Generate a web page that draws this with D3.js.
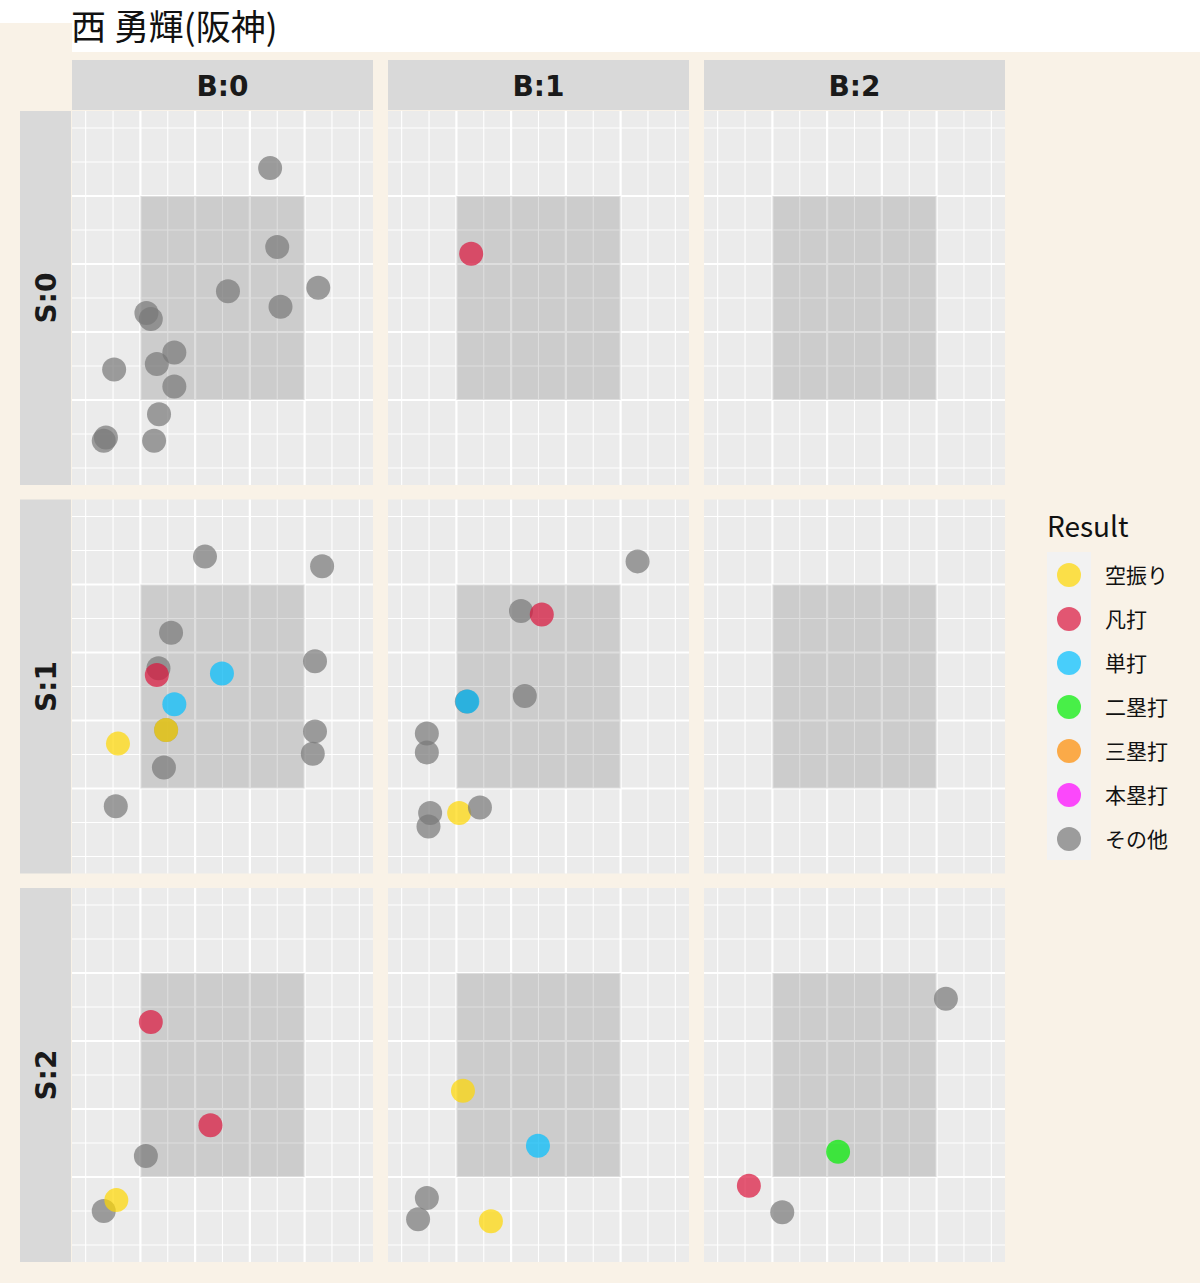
<!DOCTYPE html>
<html><head><meta charset="utf-8">
<script src="https://cdn.jsdelivr.net/npm/d3@7"></script>
<style>body{margin:0;background:#fff}svg{display:block}</style>
</head><body>
<svg id="c" width="1200" height="1283"></svg>
<script>
// ---- data ----
const title = "西 勇輝(阪神)";
const ballLabels = ["B:0", "B:1", "B:2"];
const strikeLabels = ["S:0", "S:1", "S:2"];
const resultCats = ["空振り", "凡打", "単打", "二塁打", "三塁打", "本塁打", "その他"];
const resultColors = ["#ffd700", "#dc143c", "#00bfff", "#00ee00", "#ff8c00", "#ff00ff", "#777777"];
const xBreaksMajor = [0, 1, 2, 3];
const xBreaksMinor = [-1, -0.5, 0.5, 1.5, 2.5, 3.5, 4];
const yBreaksMajor = [0, 1, 2, 3];
const yBreaksMinor = [-1, -0.5, 0.5, 1.5, 2.5, 3.5, 4];
const zone = [0, 3, 0, 3]; // x0,x1,y0,y1
const axisDomain = [-1.25, 4.25];

const ptBall   = [0,0,0,0,0,0,0,0,0,0,0,0,0,0,0, 1, 0,0,0,0,0,0,0,0,0,0,0,0,0,0,0, 1,1,1,1,1,1,1,1,1,1,1,1, 0,0,0,0,0, 1,1,1,1,1, 2,2,2,2];
const ptStrike = [0,0,0,0,0,0,0,0,0,0,0,0,0,0,0, 0, 1,1,1,1,1,1,1,1,1,1,1,1,1,1,1, 1,1,1,1,1,1,1,1,1,1,1,1, 2,2,2,2,2, 2,2,2,2,2, 2,2,2,2];
const ptX = [2.37,2.50,1.60,3.25,2.56,0.11,0.19,0.62,0.30,-0.48,0.62,0.34,-0.63,-0.67,0.25,
  0.27,
  1.18,3.32,0.56,0.33,0.30,1.49,3.19,0.62,0.47,0.47,-0.41,3.19,3.15,0.43,-0.45,
  3.31,1.18,1.56,1.25,0.19,0.20,-0.54,-0.54,-0.48,-0.51,0.05,0.43,
  0.19,1.28,0.10,-0.67,-0.44,
  0.12,1.49,-0.54,-0.70,0.63,
  3.17,1.20,-0.43,0.18];
const ptY = [3.41,2.25,1.60,1.65,1.37,1.28,1.19,0.70,0.53,0.45,0.20,-0.21,-0.55,-0.60,-0.60,
  2.15,
  3.41,3.27,2.29,1.77,1.67,1.69,1.87,1.24,0.86,0.86,0.66,0.84,0.51,0.31,-0.26,
  3.34,2.61,2.56,1.36,1.28,1.28,0.81,0.53,-0.36,-0.56,-0.36,-0.28,
  2.28,0.76,0.31,-0.50,-0.34,
  1.27,0.46,-0.31,-0.62,-0.65,
  2.62,0.37,-0.13,-0.52];
const ptResult = ["その他","その他","その他","その他","その他","その他","その他","その他","その他","その他","その他","その他","その他","その他","その他",
  "凡打",
  "その他","その他","その他","その他","凡打","単打","その他","単打","その他","空振り","空振り","その他","その他","その他","その他",
  "その他","その他","凡打","その他","その他","単打","その他","その他","その他","その他","空振り","その他",
  "凡打","凡打","その他","その他","空振り",
  "空振り","単打","その他","その他","空振り",
  "その他","二塁打","凡打","その他"];

// ---- layout ----
const svg = d3.select("#c");
const W = 1200, H = 1283;
const beige = "#f9f2e7";
const colLeft = [72, 388, 704], panelW = 301;
const rowTop = [111, 499.5, 888], panelH = 374;
const fontJP = "'Noto Sans CJK JP','Noto Sans',sans-serif";

svg.append("rect").attr("width", W).attr("height", H).attr("fill", "#fff");
svg.append("rect").attr("x", 0).attr("y", 52).attr("width", W).attr("height", H - 52).attr("fill", beige);
svg.append("rect").attr("x", 0).attr("y", 23).attr("width", 72).attr("height", 30).attr("fill", beige);

svg.append("text").attr("x", 71).attr("y", 40).attr("font-family", fontJP)
  .attr("font-size", 35).attr("fill", "#111").text(title);

const color = d3.scaleOrdinal().domain(resultCats).range(resultColors);
const x = d3.scaleLinear().domain(axisDomain).range([0, panelW]);
const y = d3.scaleLinear().domain(axisDomain).range([panelH, 0]);

// top strips
ballLabels.forEach((lab, j) => {
  const g = svg.append("g").attr("transform", `translate(${colLeft[j]},60)`);
  g.append("rect").attr("width", panelW).attr("height", 50).attr("fill", "#d9d9d9");
  g.append("text").attr("x", panelW / 2).attr("y", 36).attr("text-anchor", "middle")
    .attr("font-family", "'DejaVu Sans',sans-serif").attr("font-weight", "bold")
    .attr("font-size", 28).attr("fill", "#1a1a1a").text(lab);
});
// left strips
strikeLabels.forEach((lab, i) => {
  const g = svg.append("g").attr("transform", `translate(20,${rowTop[i]})`);
  g.append("rect").attr("width", 51).attr("height", panelH).attr("fill", "#d9d9d9");
  g.append("text").attr("transform", `translate(36,${panelH / 2}) rotate(-90)`)
    .attr("text-anchor", "middle")
    .attr("font-family", "'DejaVu Sans',sans-serif").attr("font-weight", "bold")
    .attr("font-size", 28).attr("fill", "#1a1a1a").text(lab);
});

// panels
for (let i = 0; i < 3; i++) {
  for (let j = 0; j < 3; j++) {
    const g = svg.append("g").attr("transform", `translate(${colLeft[j]},${rowTop[i]})`);
    g.append("rect").attr("width", panelW).attr("height", panelH).attr("fill", "#ebebeb");
    g.selectAll(".vmin").data(xBreaksMinor).enter().append("line")
      .attr("x1", d => x(d)).attr("x2", d => x(d)).attr("y1", 0).attr("y2", panelH)
      .attr("stroke", "#fff").attr("stroke-width", 1.1);
    g.selectAll(".hmin").data(yBreaksMinor).enter().append("line")
      .attr("y1", d => y(d)).attr("y2", d => y(d)).attr("x1", 0).attr("x2", panelW)
      .attr("stroke", "#fff").attr("stroke-width", 1.1);
    g.selectAll(".vmaj").data(xBreaksMajor).enter().append("line")
      .attr("x1", d => x(d)).attr("x2", d => x(d)).attr("y1", 0).attr("y2", panelH)
      .attr("stroke", "#fff").attr("stroke-width", 2.2);
    g.selectAll(".hmaj").data(yBreaksMajor).enter().append("line")
      .attr("y1", d => y(d)).attr("y2", d => y(d)).attr("x1", 0).attr("x2", panelW)
      .attr("stroke", "#fff").attr("stroke-width", 2.2);
    g.append("rect").attr("x", x(zone[0])).attr("y", y(zone[3]))
      .attr("width", x(zone[1]) - x(zone[0])).attr("height", y(zone[2]) - y(zone[3]))
      .attr("fill", "#000").attr("fill-opacity", 0.13);
    const idx = d3.range(ptX.length).filter(k => ptBall[k] === j && ptStrike[k] === i);
    g.selectAll("circle").data(idx).enter().append("circle")
      .attr("cx", k => x(ptX[k])).attr("cy", k => y(ptY[k])).attr("r", 12)
      .attr("fill", k => color(ptResult[k])).attr("fill-opacity", 0.7);
  }
}

// legend
const lg = svg.append("g").attr("transform", "translate(1047,0)");
lg.append("text").attr("x", 0).attr("y", 537).attr("font-family", fontJP)
  .attr("font-size", 28).attr("fill", "#111").text("Result");
lg.append("rect").attr("x", 0).attr("y", 552).attr("width", 44).attr("height", 308).attr("fill", "#f2f2f2");
resultCats.forEach((c, k) => {
  const cy = 575 + k * 44;
  lg.append("circle").attr("cx", 22).attr("cy", cy).attr("r", 12)
    .attr("fill", color(c)).attr("fill-opacity", 0.7);
  lg.append("text").attr("x", 58).attr("y", cy + 8).attr("font-family", fontJP)
    .attr("font-size", 21).attr("fill", "#111").text(c);
});
</script>
</body></html>
